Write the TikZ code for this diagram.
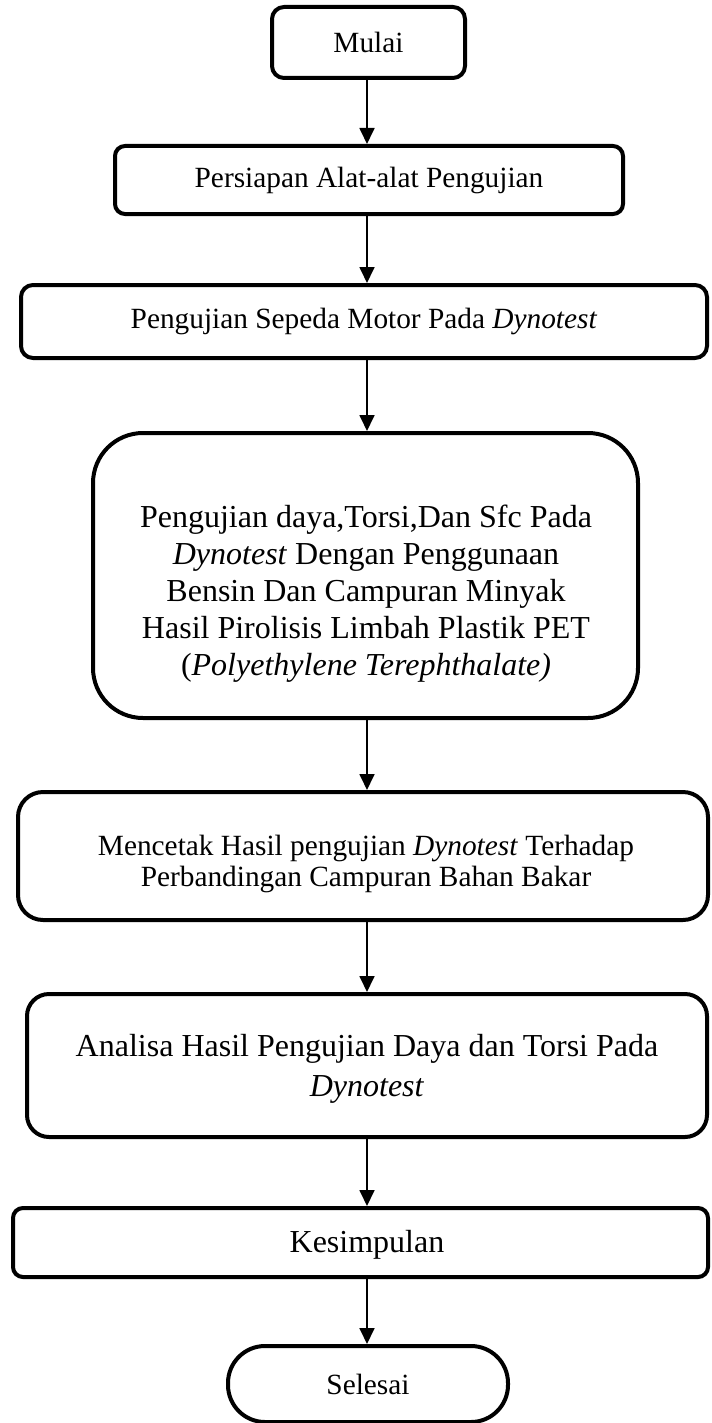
\documentclass[tikz,border=0pt]{standalone}
\usepackage{fontspec}
\setmainfont{Liberation Serif}
\usetikzlibrary{arrows.meta,calc}
\newcommand{\pxu}{0.375pt}

\begin{document}
\begin{tikzpicture}[x=0.375pt, y=-0.375pt,
    box/.style={draw, line width=1.5pt, rectangle, align=center, inner sep=0pt,
      font=\fontsize{11}{12}\selectfont},
    boxtext/.style={align=center, inner sep=0pt, font=\fontsize{12}{13.9}\selectfont},
    flow/.style={-{Triangle[width=5.6pt,length=6pt]}, line width=0.75pt}]
    \useasboundingbox (0,0) rectangle (711,1423);
    \coordinate (ax) at (367,0);
    % Start
    \node[box, rounded corners=12*\pxu, minimum width=193*\pxu, minimum height=71*\pxu]
      (mulai) at (368.5,42.5) {Mulai};
    % Steps
    \node[box, rounded corners=10*\pxu, minimum width=508*\pxu, minimum height=68*\pxu]
      (persiapan) at (369,180) {Persiapan Alat-alat Pengujian};
    \node[box, rounded corners=12*\pxu, minimum width=686*\pxu, minimum height=73*\pxu]
      (sepeda) at (364,321.5) {Pengujian Sepeda Motor Pada \textit{Dynotest}};
    \node[box, rounded corners=50*\pxu, minimum width=545*\pxu, minimum height=285*\pxu]
      (daya) at (365.5,575.5) {};
    \node[boxtext] (dayatext) at (366,594) {Pengujian daya,Torsi,Dan Sfc Pada\\
      \textit{Dynotest} Dengan Penggunaan\\ Bensin Dan Campuran Minyak\\
      Hasil Pirolisis Limbah Plastik PET\\ (\textit{Polyethylene Terephthalate)}};
    \node[box, rounded corners=25*\pxu, minimum width=690*\pxu, minimum height=128*\pxu]
      (cetak) at (363,856) {};
    \node[boxtext, font=\fontsize{11}{11.9}\selectfont] (cetaktext) at (366,864)
      {Mencetak Hasil pengujian \textit{Dynotest} Terhadap\\
      Perbandingan Campuran Bahan Bakar};
    \node[box, rounded corners=22*\pxu, minimum width=680*\pxu, minimum height=143*\pxu]
      (analisa) at (367,1065.5) {};
    \node[boxtext, font=\fontsize{12}{15}\selectfont] (analisatext) at (367,1069)
      {Analisa Hasil Pengujian Daya dan Torsi Pada\\ \textit{Dynotest}};
    \node[box, rounded corners=10*\pxu, minimum width=695*\pxu, minimum height=69*\pxu]
      (simpul) at (360.5,1242.5) {};
    \node[boxtext] (simpultext) at (367,1245) {Kesimpulan};
    % End
    \node[box, rounded corners=37*\pxu, minimum width=280*\pxu, minimum height=76*\pxu]
      (selesai) at (368,1384) {Selesai};
    % Arrows
    \draw[flow] (mulai.south -| ax) -- (persiapan.north -| ax);
    \draw[flow] (persiapan.south -| ax) -- (sepeda.north -| ax);
    \draw[flow] (sepeda.south -| ax) -- (daya.north -| ax);
    \draw[flow] (daya.south -| ax) -- (cetak.north -| ax);
    \draw[flow] (cetak.south -| ax) -- (analisa.north -| ax);
    \draw[flow] (analisa.south -| ax) -- (simpul.north -| ax);
    \draw[flow] (simpul.south -| ax) -- (selesai.north -| ax);
\end{tikzpicture}
\end{document}
